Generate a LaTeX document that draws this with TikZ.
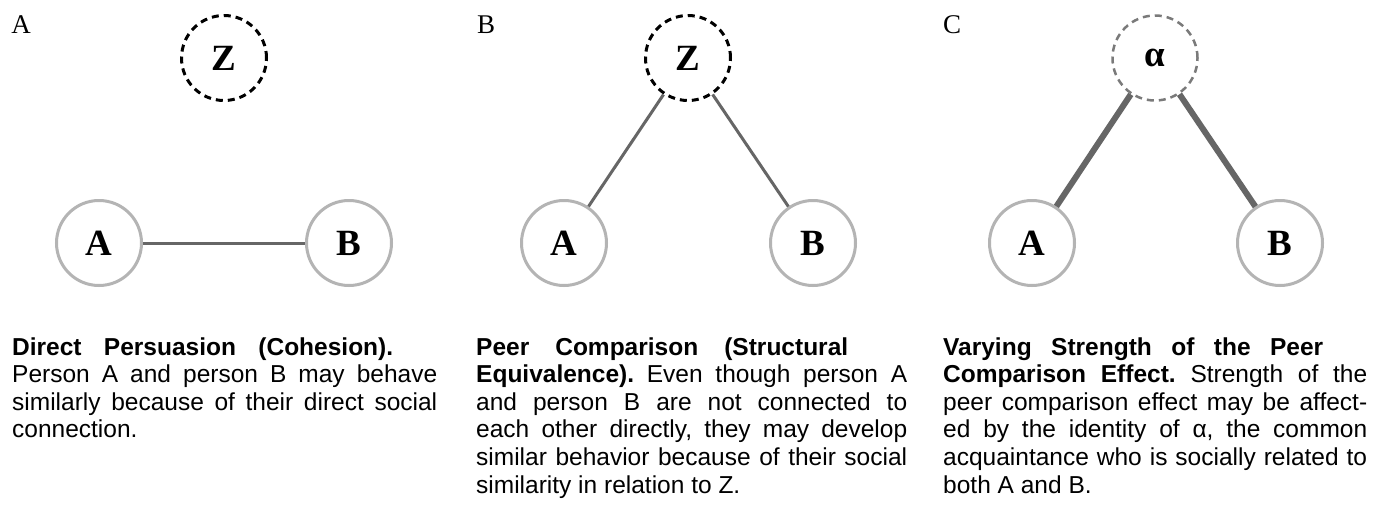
\documentclass[tikz,border=0pt]{standalone}
\usepackage{fontspec}
\setmainfont{Liberation Serif}
\newfontfamily\capfont{Liberation Sans}
\definecolor{circgray}{HTML}{B4B4B4}
\definecolor{tiegray}{HTML}{666666}
\definecolor{dashgray}{HTML}{7A7A7A}
\newcommand{\jline}[2]{\makebox[#1][s]{#2}\newline}
\frenchspacing
\begin{document}
\begin{tikzpicture}[x=1pt,y=-1pt,
  person/.style={circle, draw=circgray, line width=3pt, minimum size=85pt, inner sep=0pt,
    font=\fontsize{37}{37}\selectfont\bfseries},
  hidden/.style={person, draw=black, dash pattern=on 7pt off 5pt},
  tie/.style={draw=tiegray, line width=3pt},
  strongtie/.style={tie, line width=6pt},
  panel/.style={inner sep=0pt, font=\fontsize{27}{27}\selectfont},
  caption/.style={anchor=base west, inner sep=0pt, font=\capfont\fontsize{24.5}{27.6}\selectfont}]
\path[use as bounding box, fill=white] (0,0) rectangle (1384,504);

% Panel A
\node[panel] (labA) at (21,25) {A};
\node[hidden] (zA) at (224,58) {Z};
\node[person] (aA) at (99,243) {A};
\node[person] (bA) at (349,243) {B};
\draw[tie] (aA) -- (bA);
\node[caption] (capA) at (12,355) {\parbox[t]{425pt}{\noindent
\jline{381pt}{\bfseries Direct Persuasion (Cohesion).}
\jline{425pt}{Person A and person B may behave}
\jline{425pt}{similarly because of their direct social}
connection.}};

% Panel B
\node[panel] (labB) at (486,25) {B};
\node[hidden] (zB) at (688,58) {Z};
\node[person] (aB) at (564,243) {A};
\node[person] (bB) at (813,243) {B};
\draw[tie] (zB) -- (aB);
\draw[tie] (zB) -- (bB);
\node[caption] (capB) at (476,355) {\parbox[t]{431pt}{\noindent
\jline{372pt}{\bfseries Peer Comparison (Structural}
\jline{431pt}{\textbf{Equivalence).} Even though person A}
\jline{431pt}{and person B are not connected to}
\jline{431pt}{each other directly, they may develop}
\jline{431pt}{similar behavior because of their social}
similarity in relation to Z.}};

% Panel C
\node[panel] (labC) at (952,25) {C};
\node[hidden, draw=dashgray, line width=2.5pt] (zC) at (1155,58) {α};
\node[person] (aC) at (1032,243) {A};
\node[person] (bC) at (1280,243) {B};
\draw[strongtie] (zC) -- (aC);
\draw[strongtie] (zC) -- (bC);
\node[caption] (capC) at (943,355) {\parbox[t]{424pt}{\noindent
\jline{380pt}{\bfseries Varying Strength of the Peer}
\jline{424pt}{\textbf{Comparison Effect.} Strength of the}
\jline{424pt}{peer comparison effect may be affect-}
\jline{424pt}{ed by the identity of α, the common}
\jline{424pt}{acquaintance who is socially related to}
both A and B.}};
\end{tikzpicture}
\end{document}
